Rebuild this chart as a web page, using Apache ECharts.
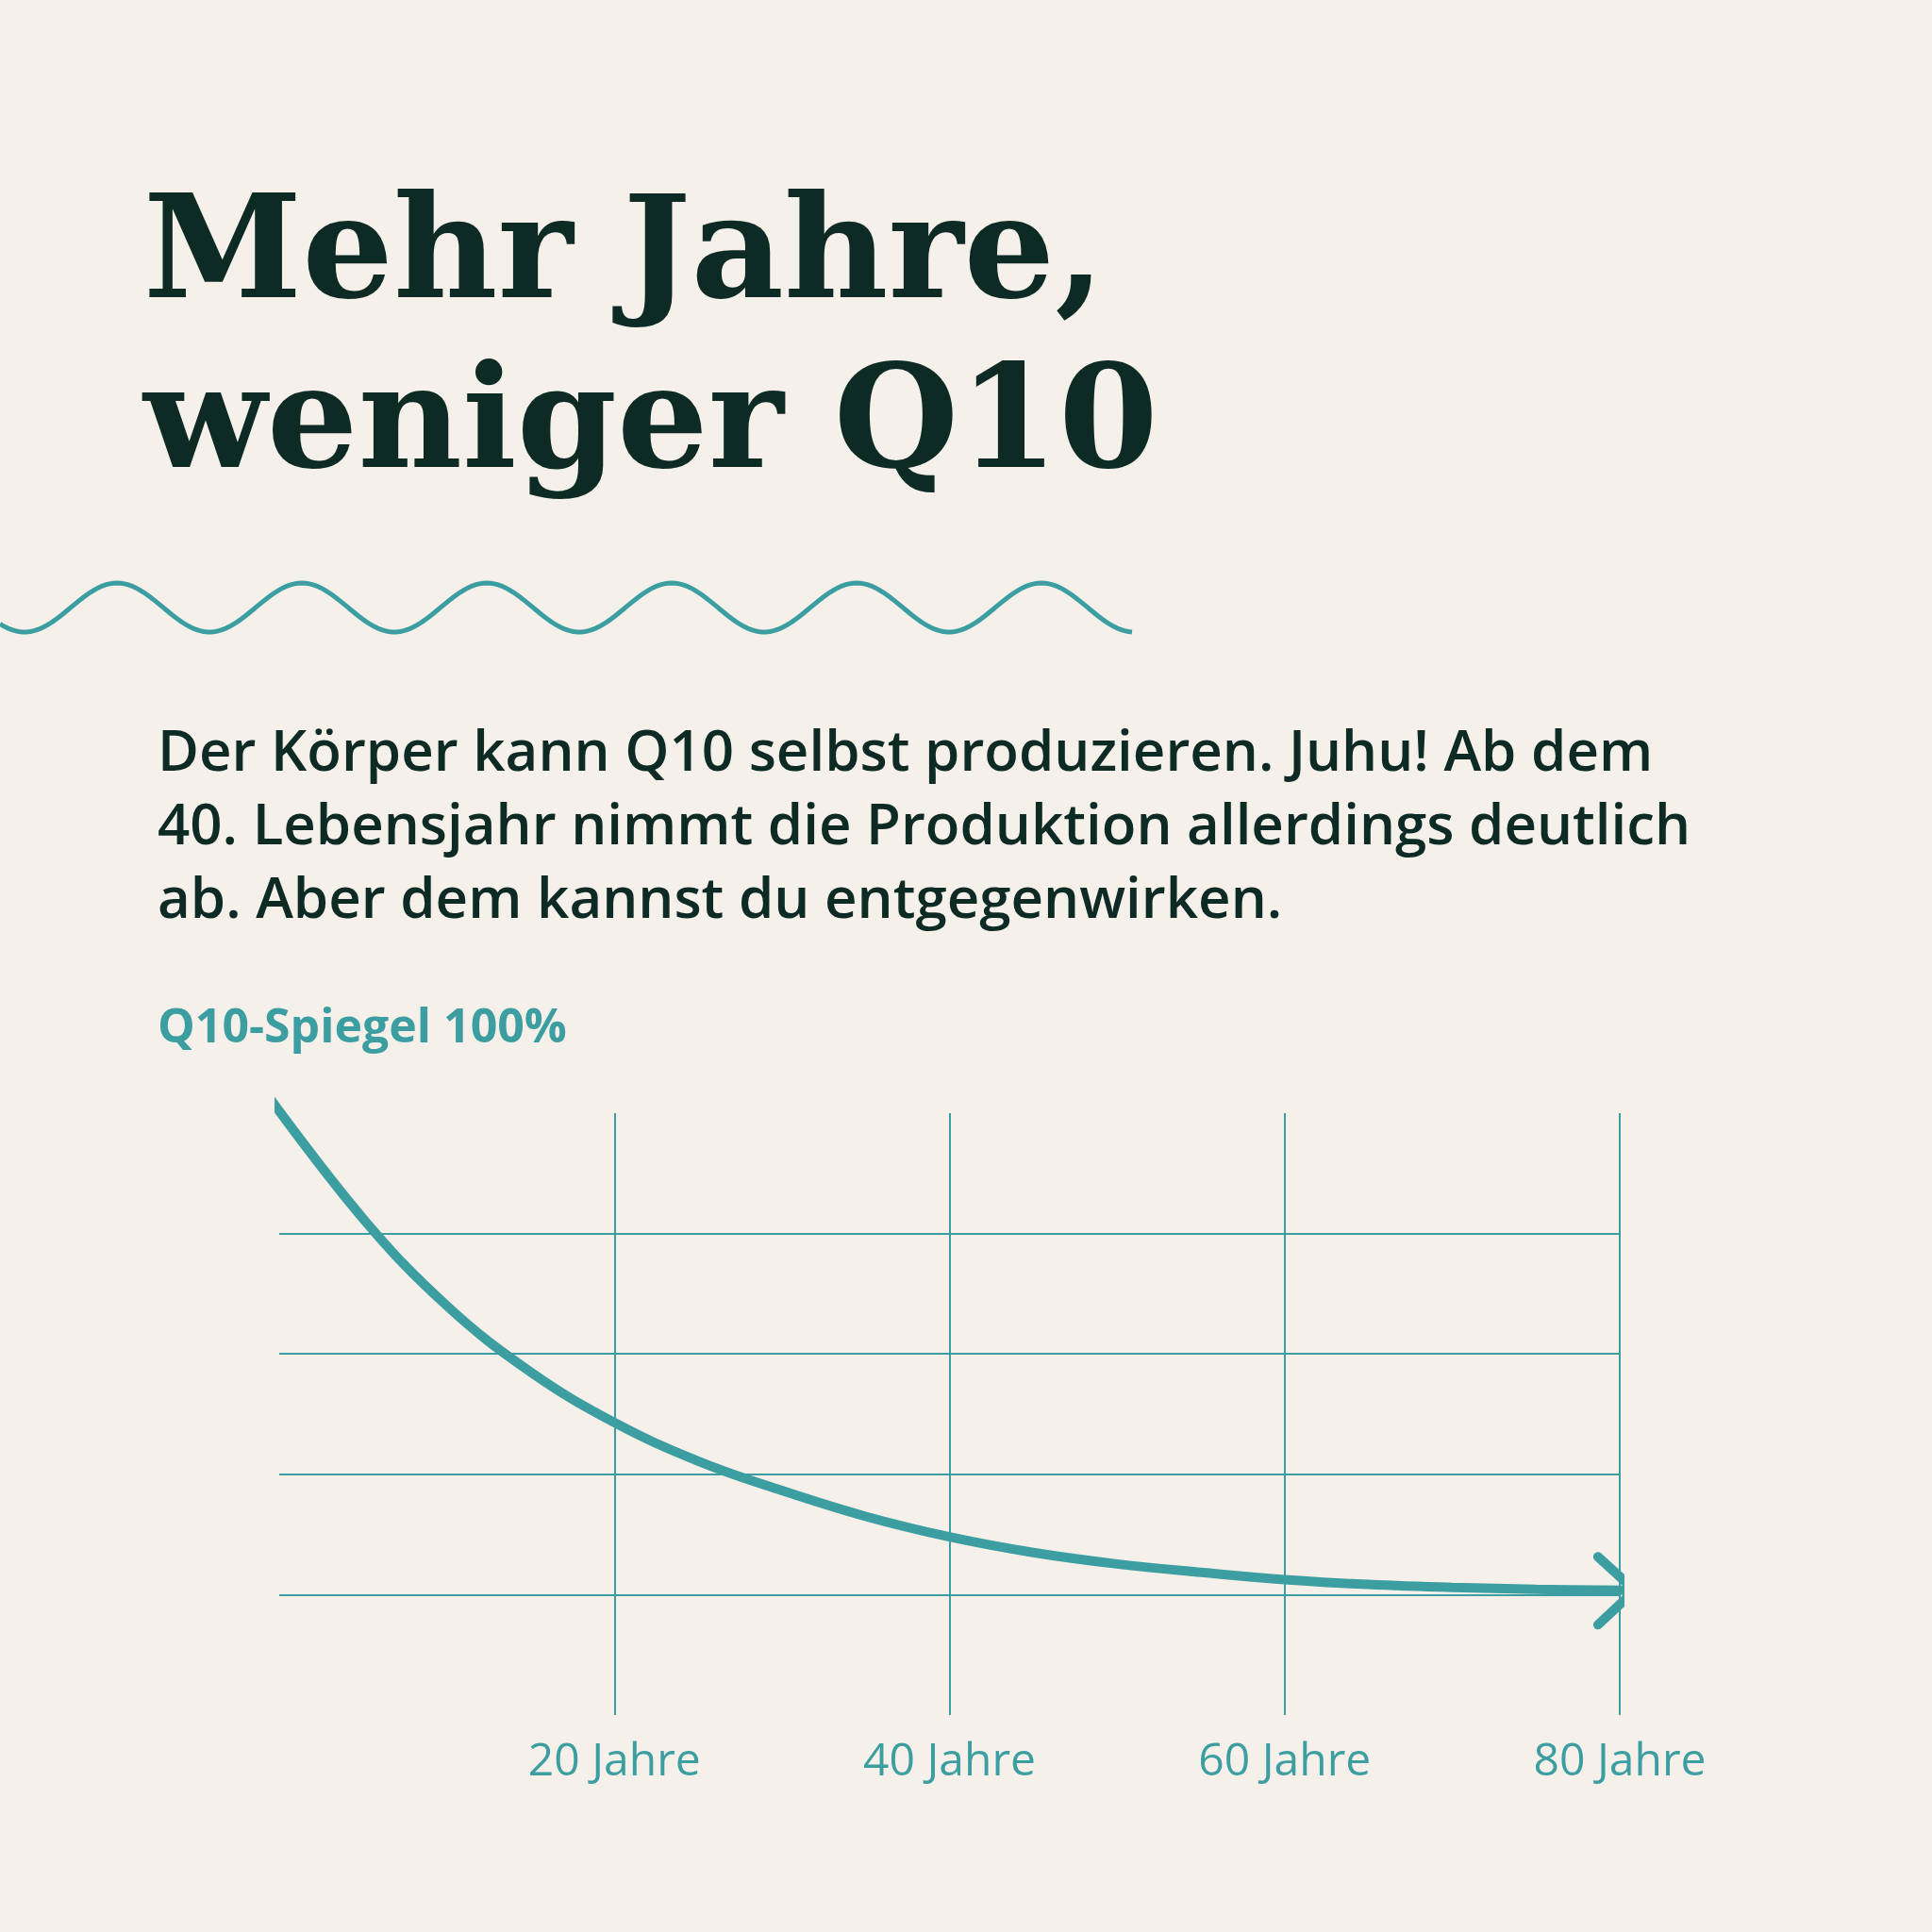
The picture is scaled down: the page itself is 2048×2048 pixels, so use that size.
<!DOCTYPE html>
<html>
<head>
<meta charset="utf-8">
<script src="https://cdn.jsdelivr.net/npm/echarts@6/dist/echarts.min.js"></script>
<style>html,body{margin:0;background:#f5f0ea}#c{width:2048px;height:2048px}</style>
</head>
<body>
<div id="c"></div>
<script>
var teal = '#3c9ea1';
var dark = '#0d2a24';

// Q10-Spiegel über das Alter (Jahre, %)
var ages = [-0.7, 5, 10, 15, 20, 25, 30, 35, 40, 45, 50, 55, 60, 65, 70, 75, 80.9];
var levels = [103, 82.5, 68, 57, 48.6, 42.2, 37.3, 33, 29.6, 27, 25.1, 23.7, 22.5, 21.7, 21.2, 20.9, 20.7];
var arrowX = [78.7, 80.9, 78.7];
var arrowY = [26.3, 20.7, 15.0];
var gridYears = [20, 40, 60, 80];
var gridLevels = [20, 40, 60, 80];
var titleLines = ['Mehr Jahre,', 'weniger Q10'];
var textLines = [
  'Der Körper kann Q10 selbst produzieren. Juhu! Ab dem',
  '40. Lebensjahr nimmt die Produktion allerdings deutlich',
  'ab. Aber dem kannst du entgegenwirken.'
];

var chart = echarts.init(document.getElementById('c'));

// Wellenlinie
var wave = [];
for (var x = 0; x <= 1200; x += 4) {
  wave.push([x, 644 - 26 * Math.cos((x - 124) / 196 * 2 * Math.PI)]);
}

var graphics = [
  { type: 'polyline', shape: { points: wave },
    style: { stroke: teal, lineWidth: 5, fill: null } },
  { type: 'text', left: 167, top: 1066,
    style: { text: 'Q10-Spiegel 100%', fill: teal, font: 'bold 50px "Open Sans"' } }
];
titleLines.forEach(function (t, i) {
  graphics.push({ type: 'text', left: 152, top: 200 + i * 180,
    style: { text: t, fill: dark, font: 'bold 152px "DejaVu Serif"' } });
});
textLines.forEach(function (t, i) {
  graphics.push({ type: 'text', left: 167, top: 770 + i * 78,
    style: { text: t, fill: dark, font: '600 60px "Open Sans"' } });
});

var marks = [];
gridYears.forEach(function (v) { marks.push({ xAxis: v }); });
gridLevels.forEach(function (v) {
  marks.push([{ coord: [0, v] }, { coord: [80, v] }]);
});

chart.setOption({
  backgroundColor: '#f5f0ea',
  animation: false,
  graphic: graphics,
  grid: { left: 296, right: 331, top: 1180, bottom: 230 },
  xAxis: {
    type: 'value', min: 0, max: 80, interval: 20,
    axisLine: { show: false }, axisTick: { show: false }, splitLine: { show: false },
    axisLabel: { showMinLabel: false, margin: 26, color: teal, fontSize: 48,
      fontFamily: 'Open Sans', formatter: function (v) { return v + ' Jahre'; } }
  },
  yAxis: {
    type: 'value', min: 0, max: 100,
    axisLine: { show: false }, axisTick: { show: false }, splitLine: { show: false },
    axisLabel: { show: false }
  },
  series: [
    {
      type: 'line', smooth: 0.4, showSymbol: false, clip: false,
      data: ages.map(function (a, i) { return [a, levels[i]]; }),
      lineStyle: { color: teal, width: 10, cap: 'round' },
      markLine: { silent: true, symbol: 'none', label: { show: false },
        lineStyle: { color: teal, width: 2, type: 'solid' }, data: marks }
    },
    {
      type: 'line', showSymbol: false, clip: false,
      data: arrowX.map(function (a, i) { return [a, arrowY[i]]; }),
      lineStyle: { color: teal, width: 10, cap: 'round', join: 'round' }
    }
  ]
});
</script>
</body>
</html>
